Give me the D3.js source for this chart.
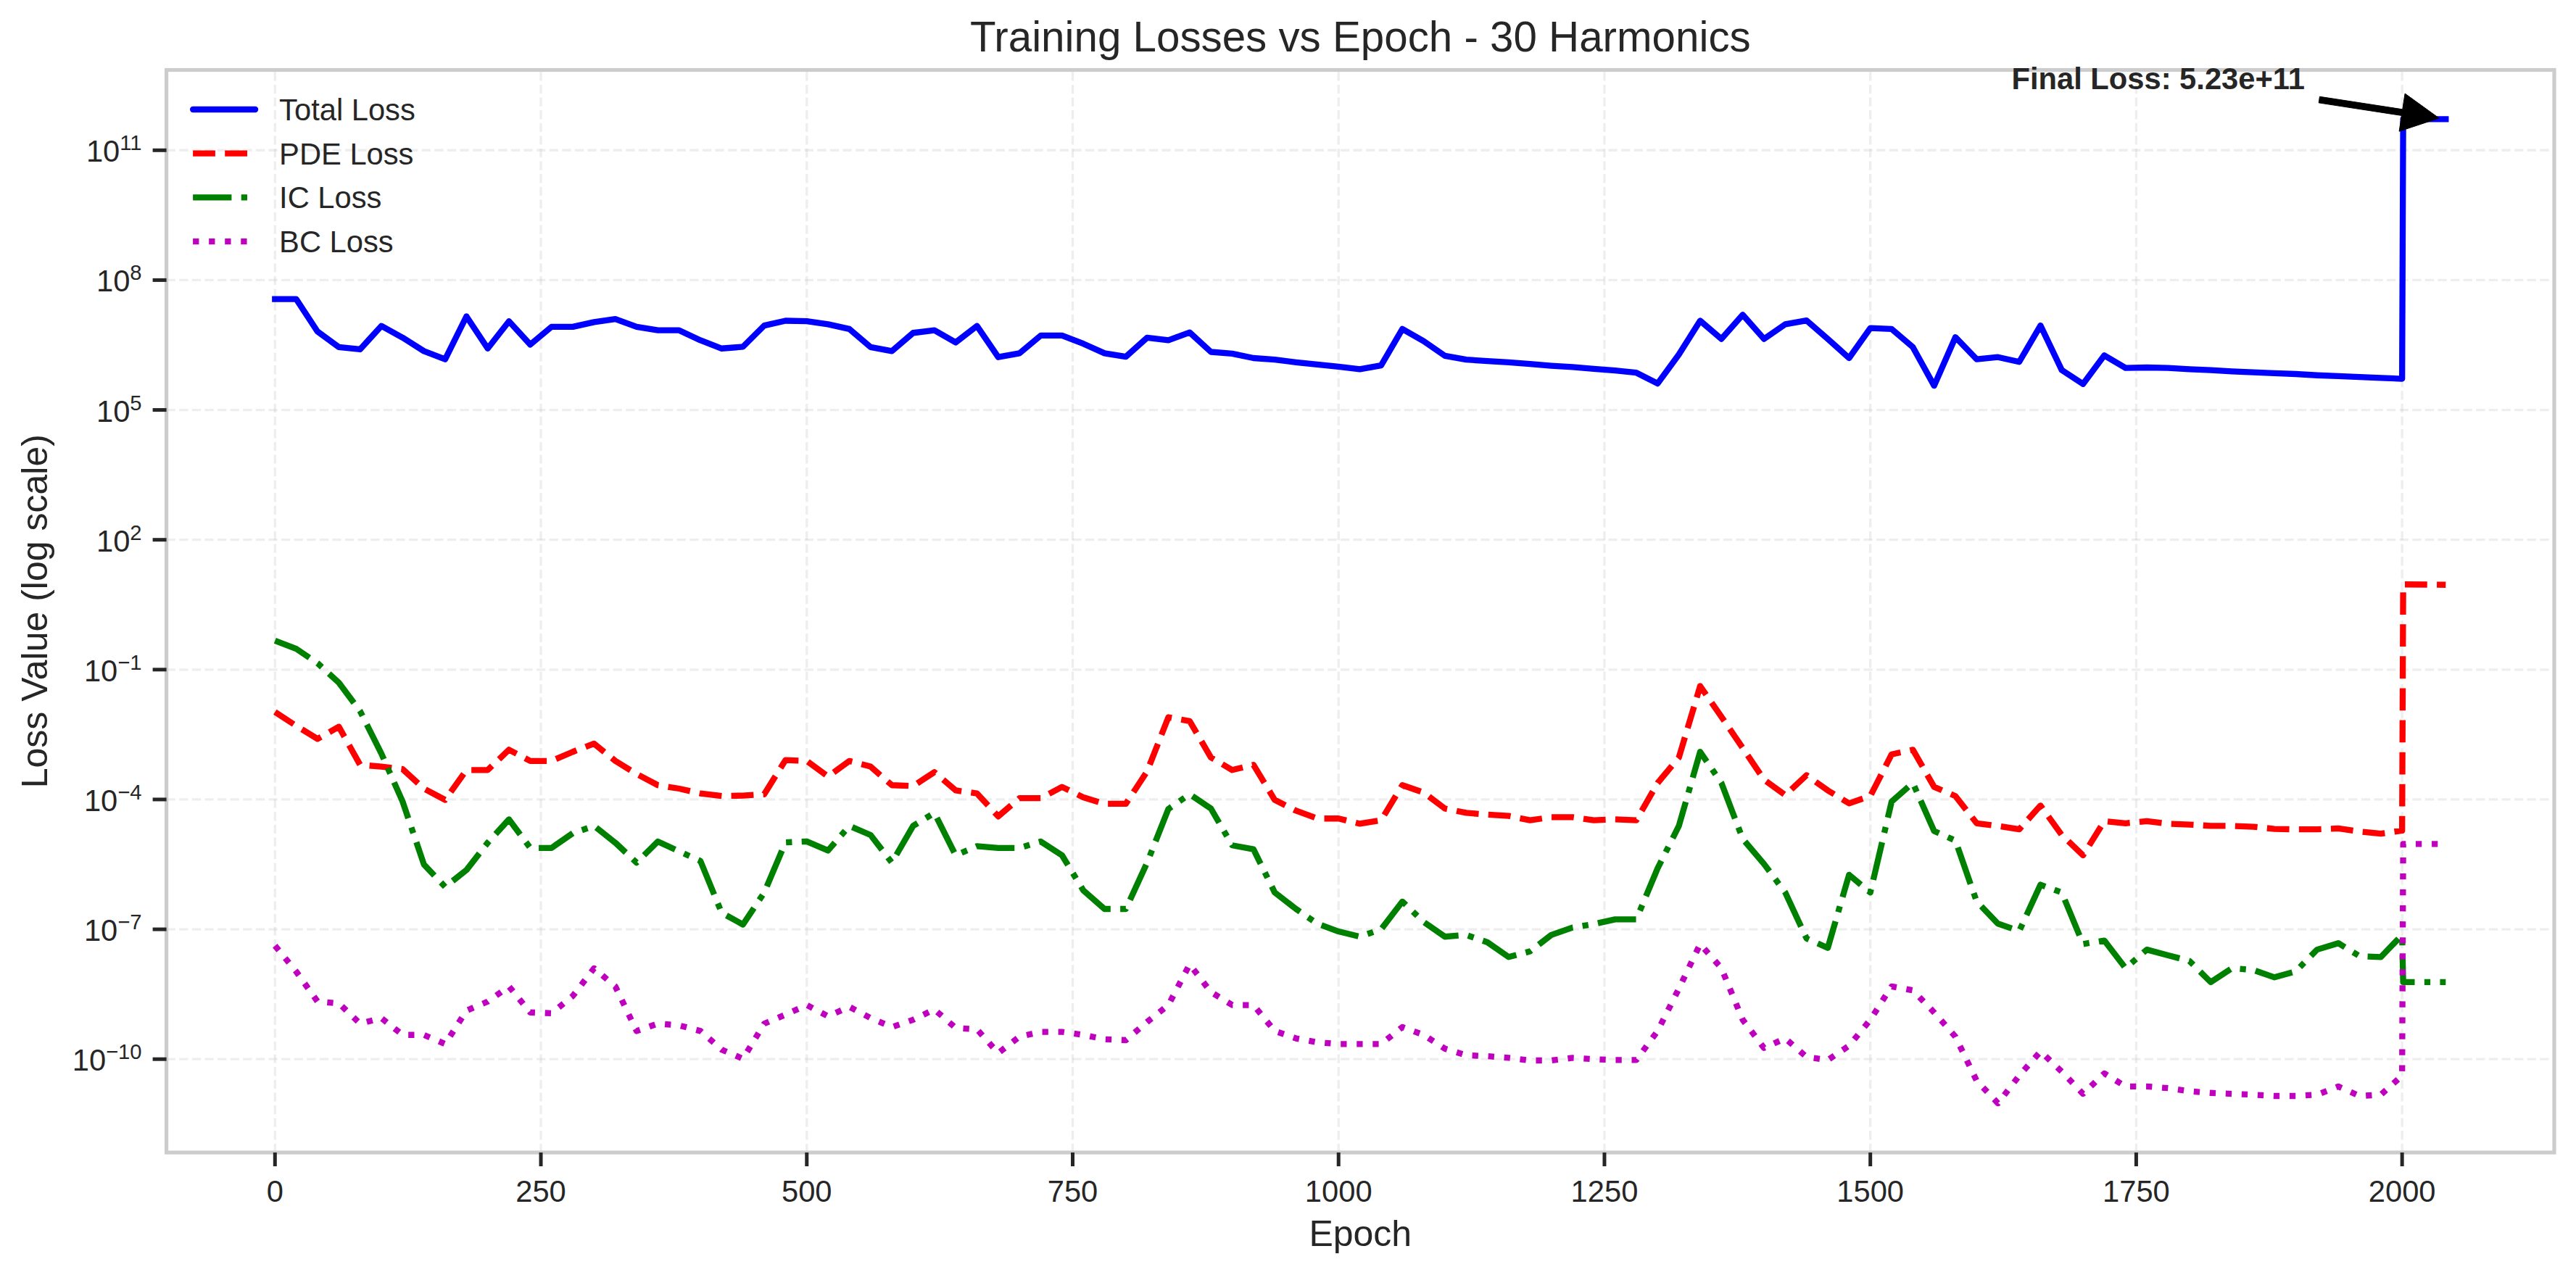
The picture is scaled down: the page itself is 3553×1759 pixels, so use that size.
<!DOCTYPE html>
<html>
<head>
<meta charset="utf-8">
<script src="https://cdn.jsdelivr.net/npm/d3@7"></script>
<style>
  body { margin: 0; background: #fff; }
  svg { display: block; font-family: "Liberation Sans", Arial, sans-serif; }
</style>
</head>
<body>
<svg id="chart"></svg>
<script>
// epochs logged every 20, plus the final evaluation point
const epochs = [
  0, 20, 40, 60, 80, 100, 120, 140, 160, 180,
  200, 220, 240, 260, 280, 300, 320, 340, 360, 380,
  400, 420, 440, 460, 480, 500, 520, 540, 560, 580,
  600, 620, 640, 660, 680, 700, 720, 740, 760, 780,
  800, 820, 840, 860, 880, 900, 920, 940, 960, 980,
  1000, 1020, 1040, 1060, 1080, 1100, 1120, 1140, 1160, 1180,
  1200, 1220, 1240, 1260, 1280, 1300, 1320, 1340, 1360, 1380,
  1400, 1420, 1440, 1460, 1480, 1500, 1520, 1540, 1560, 1580,
  1600, 1620, 1640, 1660, 1680, 1700, 1720, 1740, 1760, 1780,
  1800, 1820, 1840, 1860, 1880, 1900, 1920, 1940, 1960, 1980,
  2000, 2001, 2041
];

const totalLoss = [
  3.63e7, 3.63e7, 6.46e6, 2.82e6, 2.51e6, 8.71e6, 4.68e6, 2.29e6, 1.48e6, 1.45e7,
  2.63e6, 1.12e7, 3.24e6, 8.32e6, 8.32e6, 1.07e7, 1.26e7, 8.32e6, 6.92e6, 6.92e6,
  4.07e6, 2.63e6, 2.88e6, 8.91e6, 1.15e7, 1.12e7, 9.55e6, 7.41e6, 2.82e6, 2.29e6,
  6.03e6, 6.92e6, 3.63e6, 8.71e6, 1.66e6, 2.04e6, 5.25e6, 5.25e6, 3.39e6, 2.04e6,
  1.70e6, 4.68e6, 4.07e6, 6.17e6, 2.19e6, 2.00e6, 1.58e6, 1.45e6, 1.26e6, 1.12e6,
  1.00e6, 8.71e5, 1.07e6, 7.41e6, 3.89e6, 1.78e6, 1.45e6, 1.35e6, 1.26e6, 1.15e6,
  1.05e6, 9.77e5, 8.91e5, 8.13e5, 7.24e5, 4.07e5, 1.91e6, 1.15e7, 4.37e6, 1.58e7,
  4.37e6, 9.55e6, 1.17e7, 4.37e6, 1.58e6, 7.76e6, 7.41e6, 2.82e6, 3.63e5, 4.79e6,
  1.48e6, 1.66e6, 1.29e6, 8.91e6, 8.32e5, 3.98e5, 1.82e6, 9.33e5, 9.55e5, 9.33e5,
  8.71e5, 8.32e5, 7.76e5, 7.41e5, 7.08e5, 6.76e5, 6.31e5, 6.03e5, 5.75e5, 5.50e5,
  5.25e5, 5.23e11, 5.23e11
];

const pdeLoss = [
  1.05e-2, 5.01e-3, 2.51e-3, 4.79e-3, 6.31e-4, 5.75e-4, 5.01e-4, 1.78e-4, 9.77e-5, 4.79e-4,
  4.79e-4, 1.41e-3, 7.76e-4, 7.76e-4, 1.26e-3, 1.95e-3, 7.76e-4, 3.89e-4, 2.14e-4, 1.78e-4,
  1.38e-4, 1.20e-4, 1.23e-4, 1.32e-4, 8.13e-4, 7.76e-4, 3.39e-4, 7.76e-4, 5.75e-4, 2.14e-4,
  2.04e-4, 4.27e-4, 1.62e-4, 1.38e-4, 4.07e-5, 1.07e-4, 1.07e-4, 1.95e-4, 1.12e-4, 7.94e-5,
  7.94e-5, 4.47e-4, 7.94e-3, 6.46e-3, 9.33e-4, 4.79e-4, 6.31e-4, 9.77e-5, 5.50e-5, 3.63e-5,
  3.63e-5, 2.75e-5, 3.31e-5, 2.14e-4, 1.45e-4, 6.17e-5, 4.90e-5, 4.47e-5, 4.17e-5, 3.31e-5,
  3.89e-5, 3.89e-5, 3.31e-5, 3.47e-5, 3.31e-5, 2.40e-4, 9.33e-4, 4.17e-2, 8.13e-3, 1.55e-3,
  2.88e-4, 1.26e-4, 3.63e-4, 1.62e-4, 8.13e-5, 1.20e-4, 1.10e-3, 1.41e-3, 1.95e-4, 1.20e-4,
  2.82e-5, 2.45e-5, 2.04e-5, 7.24e-5, 1.51e-5, 5.13e-6, 3.16e-5, 2.82e-5, 3.16e-5, 2.75e-5,
  2.63e-5, 2.45e-5, 2.45e-5, 2.34e-5, 2.09e-5, 2.04e-5, 2.04e-5, 2.14e-5, 1.82e-5, 1.62e-5,
  1.91e-5, 9.33, 9.12
];

const icLoss = [
  4.68e-1, 3.02e-1, 1.41e-1, 5.01e-2, 1.10e-2, 1.15e-3, 8.91e-5, 3.16e-6, 9.55e-7, 2.34e-6,
  1.00e-5, 3.47e-5, 7.59e-6, 7.59e-6, 1.66e-5, 2.45e-5, 1.00e-5, 3.47e-6, 1.07e-5, 6.31e-6,
  3.80e-6, 2.40e-7, 1.29e-7, 7.08e-7, 1.02e-5, 1.07e-5, 6.61e-6, 2.45e-5, 1.51e-5, 3.47e-6,
  2.45e-5, 4.90e-5, 5.13e-6, 8.32e-6, 7.59e-6, 7.59e-6, 1.07e-5, 5.13e-6, 7.94e-7, 2.95e-7,
  2.95e-7, 3.47e-6, 6.03e-5, 1.32e-4, 6.17e-5, 8.71e-6, 7.08e-6, 7.08e-7, 2.95e-7, 1.35e-7,
  8.91e-8, 6.76e-8, 1.00e-7, 4.37e-7, 1.48e-7, 6.76e-8, 7.41e-8, 5.01e-8, 2.29e-8, 3.09e-8,
  7.41e-8, 1.10e-7, 1.32e-7, 1.70e-7, 1.70e-7, 2.57e-6, 2.45e-5, 1.26e-3, 2.40e-4, 1.23e-5,
  3.24e-6, 7.08e-7, 6.17e-8, 3.72e-8, 1.82e-6, 7.08e-7, 8.91e-5, 2.40e-4, 1.86e-5, 1.12e-5,
  4.37e-7, 1.35e-7, 9.12e-8, 1.07e-6, 7.08e-7, 4.57e-8, 5.50e-8, 1.26e-8, 3.39e-8, 2.51e-8,
  1.86e-8, 6.03e-9, 1.26e-8, 1.15e-8, 7.76e-9, 1.07e-8, 3.39e-8, 4.79e-8, 2.40e-8, 2.29e-8,
  7.41e-8, 6.03e-9, 6.03e-9
];

const bcLoss = [
  4.17e-8, 1.05e-8, 2.14e-9, 1.95e-9, 6.61e-10, 8.91e-10, 3.63e-10, 3.63e-10, 2.24e-10, 1.32e-9,
  2.14e-9, 4.79e-9, 1.20e-9, 1.15e-9, 2.88e-9, 1.26e-8, 4.79e-9, 4.47e-10, 6.61e-10, 6.03e-10,
  4.47e-10, 1.66e-10, 1.02e-10, 6.61e-10, 1.07e-9, 1.78e-9, 9.77e-10, 1.62e-9, 8.91e-10, 5.50e-10,
  8.13e-10, 1.41e-9, 5.25e-10, 4.90e-10, 1.38e-10, 3.31e-10, 4.27e-10, 4.27e-10, 3.63e-10, 2.88e-10,
  2.75e-10, 7.24e-10, 1.78e-9, 1.55e-8, 3.55e-9, 1.78e-9, 1.78e-9, 4.47e-10, 3.02e-10, 2.45e-10,
  2.24e-10, 2.24e-10, 2.24e-10, 5.50e-10, 3.63e-10, 1.74e-10, 1.23e-10, 1.17e-10, 1.07e-10, 9.33e-11,
  9.33e-11, 1.07e-10, 1.00e-10, 9.55e-11, 9.55e-11, 4.47e-10, 4.27e-9, 4.57e-8, 1.26e-8, 8.13e-10,
  1.82e-10, 3.02e-10, 1.12e-10, 9.55e-11, 2.04e-10, 8.13e-10, 4.79e-9, 3.89e-9, 1.20e-9, 3.31e-10,
  3.16e-11, 9.55e-12, 4.17e-11, 1.51e-10, 5.13e-11, 1.58e-11, 4.68e-11, 2.34e-11, 2.34e-11, 2.14e-11,
  1.82e-11, 1.66e-11, 1.58e-11, 1.51e-11, 1.41e-11, 1.41e-11, 1.51e-11, 2.34e-11, 1.41e-11, 1.51e-11,
  4.17e-11, 9.33e-6, 9.33e-6
];

const seriesNames = ["Total Loss", "PDE Loss", "IC Loss", "BC Loss"];
const xTicks = [0, 250, 500, 750, 1000, 1250, 1500, 1750, 2000];
const yTickExponents = [11, 8, 5, 2, -1, -4, -7, -10];
const chartTitle = "Training Losses vs Epoch - 30 Harmonics";
const xLabel = "Epoch";
const yLabel = "Loss Value (log scale)";

const W = 3553, H = 1759;
const box = {left: 229.6, right: 3523, top: 96.5, bottom: 1590};
const ink = "#262626";

// line styles (matplotlib b-, r--, g-., m: at lw 2, 300 dpi)
const styles = [
  {color: "#0000ff", dash: null},
  {color: "#ff0000", dash: "30.8,13.3"},
  {color: "#008000", dash: "53.3,13.3,8.3,13.3"},
  {color: "#bf00bf", dash: "8.3,13.75"}
];

const draw = () => {
  const series = [totalLoss, pdeLoss, icLoss, bcLoss];
  const svg = d3.select("#chart").attr("width", W).attr("height", H);

  // autoscale with 5% margins like matplotlib (log space for y)
  const xExt = d3.extent(epochs);
  const xPad = (xExt[1] - xExt[0]) * 0.05;
  const x = d3.scaleLinear()
    .domain([xExt[0] - xPad, xExt[1] + xPad])
    .range([box.left, box.right]);

  const logs = series.flat().map(v => Math.log10(v));
  const lo = d3.min(logs), hi = d3.max(logs);
  const yPad = (hi - lo) * 0.05;
  const y = d3.scaleLog()
    .domain([Math.pow(10, lo - yPad), Math.pow(10, hi + yPad)])
    .range([box.bottom, box.top]);

  // grid
  const grid = svg.append("g")
    .attr("stroke", "#cccccc")
    .attr("stroke-opacity", 0.33)
    .attr("stroke-width", 3.33)
    .attr("stroke-dasharray", "12.3,5.3");
  grid.selectAll(".gx").data(xTicks).enter().append("line")
    .attr("x1", d => x(d)).attr("x2", d => x(d))
    .attr("y1", box.bottom).attr("y2", box.top);
  grid.selectAll(".gy").data(yTickExponents).enter().append("line")
    .attr("x1", box.left).attr("x2", box.right)
    .attr("y1", d => y(Math.pow(10, d))).attr("y2", d => y(Math.pow(10, d)));

  svg.append("clipPath").attr("id", "plotClip")
    .append("rect")
    .attr("x", box.left).attr("y", box.top)
    .attr("width", box.right - box.left).attr("height", box.bottom - box.top);

  const line = d3.line()
    .x((d, i) => x(epochs[i]))
    .y(d => y(d));

  const lines = svg.append("g").attr("clip-path", "url(#plotClip)");
  series.forEach((s, k) => {
    lines.append("path")
      .attr("d", line(s))
      .attr("fill", "none")
      .attr("stroke", styles[k].color)
      .attr("stroke-width", 8.33)
      .attr("stroke-linejoin", "round")
      .attr("stroke-linecap", styles[k].dash ? "butt" : "square")
      .attr("stroke-dasharray", styles[k].dash);
  });

  // frame
  svg.append("rect")
    .attr("x", box.left).attr("y", box.top)
    .attr("width", box.right - box.left).attr("height", box.bottom - box.top)
    .attr("fill", "none")
    .attr("stroke", "#cccccc")
    .attr("stroke-width", 5.2);

  // x ticks
  const xt = svg.append("g");
  xt.selectAll("line").data(xTicks).enter().append("line")
    .attr("x1", d => x(d)).attr("x2", d => x(d))
    .attr("y1", box.bottom).attr("y2", box.bottom + 19)
    .attr("stroke", ink).attr("stroke-width", 5);
  xt.selectAll("text").data(xTicks).enter().append("text")
    .attr("x", d => x(d))
    .attr("y", box.bottom + 68)
    .attr("text-anchor", "middle")
    .attr("font-size", 41.7)
    .attr("fill", ink)
    .text(d => d);

  // y ticks, 10^n with superscript
  const yt = svg.append("g");
  yt.selectAll("line").data(yTickExponents).enter().append("line")
    .attr("x1", box.left - 19).attr("x2", box.left)
    .attr("y1", d => y(Math.pow(10, d))).attr("y2", d => y(Math.pow(10, d)))
    .attr("stroke", ink).attr("stroke-width", 5);
  const yl = yt.selectAll("text").data(yTickExponents).enter().append("text")
    .attr("x", box.left - 34)
    .attr("y", d => y(Math.pow(10, d)) + 16)
    .attr("text-anchor", "end")
    .attr("font-size", 41.7)
    .attr("fill", ink)
    .text("10");
  yl.append("tspan")
    .attr("dy", -16)
    .attr("font-size", 29.2)
    .text(d => (d < 0 ? "\u2212" : "") + Math.abs(d));

  // labels & title
  const cx = (box.left + box.right) / 2;
  const cy = (box.top + box.bottom) / 2;
  svg.append("text")
    .attr("x", cx).attr("y", box.top - 25.5)
    .attr("text-anchor", "middle")
    .attr("font-size", 58.3)
    .attr("fill", ink)
    .text(chartTitle);
  svg.append("text")
    .attr("x", cx).attr("y", 1719)
    .attr("text-anchor", "middle")
    .attr("font-size", 50)
    .attr("fill", ink)
    .text(xLabel);
  svg.append("text")
    .attr("transform", `translate(65, ${cy}) rotate(-90)`)
    .attr("text-anchor", "middle")
    .attr("font-size", 50)
    .attr("fill", ink)
    .text(yLabel);

  // legend, upper left, no frame
  const lg = svg.append("g").attr("transform", `translate(${box.left + 36.5}, ${box.top + 54.5})`);
  seriesNames.forEach((name, k) => {
    const row = lg.append("g").attr("transform", `translate(0, ${k * 60.7})`);
    row.append("line")
      .attr("x1", 0).attr("x2", 86).attr("y1", 0).attr("y2", 0)
      .attr("stroke", styles[k].color)
      .attr("stroke-width", 8.33)
      .attr("stroke-linecap", styles[k].dash ? "butt" : "round")
      .attr("stroke-dasharray", styles[k].dash);
    row.append("text")
      .attr("x", 119).attr("y", 15)
      .attr("font-size", 41.7)
      .attr("fill", ink)
      .text(name);
  });

  // final loss annotation
  const last = epochs.length - 1;
  const finalLoss = totalLoss[last];
  const label = svg.append("text")
    .attr("x", x(epochs[last] * 0.8))
    .attr("y", y(finalLoss * 5))
    .attr("font-size", 41.7)
    .attr("font-weight", "bold")
    .attr("fill", ink)
    .text("Final Loss: " + finalLoss.toExponential(2));
  const tw = label.node().getComputedTextLength();
  const sx = x(epochs[last] * 0.8) + tw + 10.8;
  const sy = y(finalLoss * 5) + 13.5;
  const px = x(epochs[last]), py = y(finalLoss);
  const dx = px - sx, dy = py - sy;
  const len = Math.hypot(dx, dy);
  const ux = dx / len, uy = dy / len;
  const tail = [sx + 0.05 * dx, sy + 0.05 * dy];
  const tip = [px - 0.05 * dx, py - 0.05 * dy];
  const headLen = 51.6, headW = 52.7, shaftW = 8.7;
  const base = [tip[0] - ux * headLen, tip[1] - uy * headLen];
  const nx = -uy, ny = ux;
  const pts = [
    [tail[0] + nx * shaftW / 2, tail[1] + ny * shaftW / 2],
    [base[0] + nx * shaftW / 2, base[1] + ny * shaftW / 2],
    [base[0] + nx * headW / 2, base[1] + ny * headW / 2],
    tip,
    [base[0] - nx * headW / 2, base[1] - ny * headW / 2],
    [base[0] - nx * shaftW / 2, base[1] - ny * shaftW / 2],
    [tail[0] - nx * shaftW / 2, tail[1] - ny * shaftW / 2]
  ];
  svg.append("path")
    .attr("d", "M" + pts.map(p => p.join(",")).join("L") + "Z")
    .attr("fill", "#000")
    .attr("stroke", "#000")
    .attr("stroke-width", 1)
    .attr("stroke-linejoin", "miter");
};

draw();
</script>
</body>
</html>
